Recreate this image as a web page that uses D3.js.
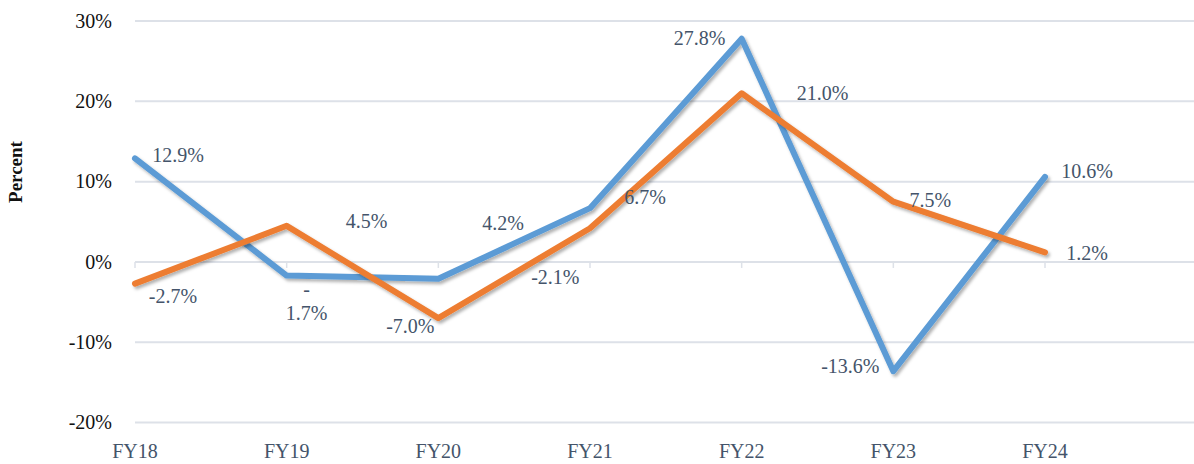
<!DOCTYPE html>
<html>
<head>
<meta charset="utf-8">
<script src="https://cdn.jsdelivr.net/npm/d3@7"></script>
<style>
  body { margin: 0; background: #fff; }
  svg { display: block; font-family: "Liberation Serif", "DejaVu Serif", serif; }
</style>
</head>
<body>
<div id="chart"></div>
<script>
const years = ["FY18", "FY19", "FY20", "FY21", "FY22", "FY23", "FY24"];
const blueValues = [12.9, -1.7, -2.1, 6.7, 27.8, -13.6, 10.6];
const orangeValues = [-2.7, 4.5, -7.0, 4.2, 21.0, 7.5, 1.2];
const yTicks = [-20, -10, 0, 10, 20, 30];

// label offsets from each point (dx, dy to baseline)
const blueLabelPos = [[43, 4], [20, 20], [117, 5], [55, -4], [-42, 6], [-43, 2], [42, 1]];
const orangeLabelPos = [[38, 19], [80, 2], [-28, 15], [-87, 2], [81, 7], [37, 5], [42, 8]];

const fullWidth = 1194;
const fullHeight = 464;
const labelColor = "#44546a";

const svg = d3
  .select("#chart")
  .append("svg")
  .attr("width", fullWidth)
  .attr("height", fullHeight);

const defs = svg.append("defs");
defs
  .append("filter")
  .attr("id", "shadow")
  .attr("x", "-10%")
  .attr("y", "-10%")
  .attr("width", "120%")
  .attr("height", "120%")
  .append("feDropShadow")
  .attr("dx", 2)
  .attr("dy", 2.5)
  .attr("stdDeviation", 1.8)
  .attr("flood-color", "#000")
  .attr("flood-opacity", 0.3);

const x = d3.scalePoint().domain(years).range([135, 1045]);
const y = d3.scaleLinear().domain([-20, 30]).range([422.6, 21]);
const plotRight = 1194;

// gridlines
svg
  .append("g")
  .selectAll("line")
  .data(yTicks)
  .enter()
  .append("line")
  .attr("x1", x(years[0]))
  .attr("x2", plotRight)
  .attr("y1", d => y(d))
  .attr("y2", d => y(d))
  .style("stroke", "#dde1e8")
  .style("stroke-width", 2);

// small tick marks under the zero line
svg
  .append("g")
  .selectAll("line")
  .data(years)
  .enter()
  .append("line")
  .attr("x1", d => x(d))
  .attr("x2", d => x(d))
  .attr("y1", y(0))
  .attr("y2", y(0) + 6)
  .style("stroke", "#dde1e8")
  .style("stroke-width", 1.5);

// y tick labels
svg
  .append("g")
  .selectAll("text")
  .data(yTicks)
  .enter()
  .append("text")
  .attr("x", 112)
  .attr("y", d => y(d))
  .attr("dy", "0.34em")
  .attr("text-anchor", "end")
  .style("font-size", "20px")
  .style("fill", "#111")
  .text(d => d + "%");

// x labels
svg
  .append("g")
  .selectAll("text")
  .data(years)
  .enter()
  .append("text")
  .attr("x", d => x(d))
  .attr("y", 458)
  .attr("text-anchor", "middle")
  .style("font-size", "20px")
  .style("fill", labelColor)
  .text(d => d);

// axis title
svg
  .append("text")
  .attr("transform", "translate(22, 172) rotate(-90)")
  .attr("text-anchor", "middle")
  .style("font-size", "19px")
  .style("font-weight", "bold")
  .style("fill", "#111")
  .text("Percent");

const line = d3
  .line()
  .x((d, i) => x(years[i]))
  .y(d => y(d));

const series = [
  { values: blueValues, color: "#5b9bd5", pos: blueLabelPos },
  { values: orangeValues, color: "#ed7d31", pos: orangeLabelPos }
];

series.forEach(s => {
  svg
    .append("path")
    .datum(s.values)
    .attr("d", line)
    .attr("filter", "url(#shadow)")
    .style("fill", "none")
    .style("stroke", s.color)
    .style("stroke-width", 6)
    .style("stroke-linejoin", "round")
    .style("stroke-linecap", "round");
});

series.forEach(s => {
  const labels = svg
    .append("g")
    .selectAll("text")
    .data(s.values)
    .enter()
    .append("text")
    .attr("x", (d, i) => x(years[i]) + s.pos[i][0])
    .attr("y", (d, i) => y(d) + s.pos[i][1])
    .attr("text-anchor", "middle")
    .style("font-size", "20px")
    .style("fill", labelColor);

  labels.each(function(d, i) {
    const txt = d.toFixed(1) + "%";
    const el = d3.select(this);
    // the FY19 blue label wraps after the minus sign
    if (s.values === blueValues && i === 1) {
      el.append("tspan").attr("x", x(years[i]) + s.pos[i][0]).text("-");
      el.append("tspan")
        .attr("x", x(years[i]) + s.pos[i][0])
        .attr("dy", 24)
        .text(txt.slice(1));
    } else {
      el.text(txt);
    }
  });
});
</script>
</body>
</html>
